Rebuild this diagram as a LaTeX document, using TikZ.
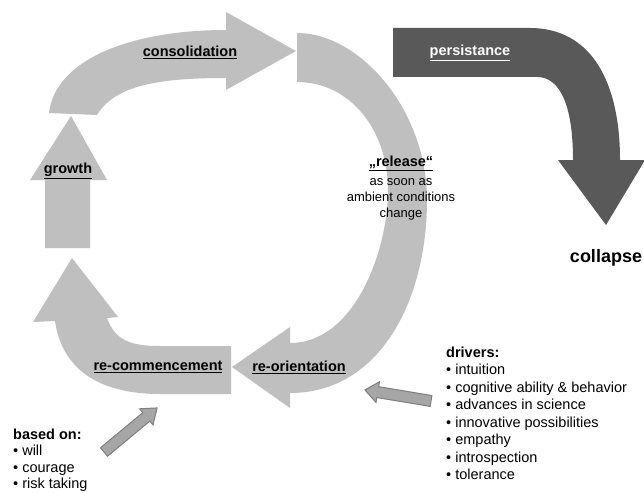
\documentclass[tikz,border=0pt]{standalone}
\usepackage{fontspec}
\setmainfont{Liberation Sans}
\definecolor{lightband}{HTML}{BFBFBF}
\definecolor{darkband}{HTML}{595959}
\definecolor{sfill}{HTML}{A6A6A6}
\definecolor{sdraw}{HTML}{7F7F7F}
\begin{document}
\begin{tikzpicture}[x=1pt,y=-1pt,
  band/.style={fill=lightband, draw=none},
  darkb/.style={fill=darkband, draw=none},
  smallarrow/.style={fill=sfill, draw=sdraw, line width=1pt, line join=miter},
  lbl/.style={font=\bfseries\fontsize{14.5}{17.5}\selectfont, inner sep=0pt},
  sub/.style={font=\fontsize{13}{16}\selectfont, inner sep=0pt, align=center},
  item/.style={font=\fontsize{14.5}{17.5}\selectfont, inner sep=0pt, anchor=base west},
  head/.style={font=\bfseries\fontsize{14.5}{17.5}\selectfont, inner sep=0pt, anchor=base west}]
\clip (0,0) rectangle (644,492);
\fill[white] (0,0) rectangle (644,492);
% growth
\path[band] (45,248) -- (45,180) -- (30,180) -- (71,116) -- (107,180) -- (90,180) -- (90,248) -- cycle;
% consolidation
\path[band] (49,113) .. controls (55,60) and (130,30) .. (226,30) -- (226,12) -- (296,51) -- (226,90) -- (226,78) .. controls (160,78) and (115,85) .. (97,115) -- cycle;
% release + re-orientation
\path[band] (297,33) .. controls (360,33) and (427,110) .. (427,200) .. controls (427,300) and (380,393) .. (290,393) -- (290,408) -- (232,367) -- (290,327) -- (290,343) .. controls (355,343) and (388,250) .. (388,190) .. controls (388,130) and (350,82) .. (297,82) -- cycle;
% re-commencement
\path[band] (231,346) -- (231,394) -- (160,394) .. controls (100,394) and (62,370) .. (55,321) -- (33,322) -- (72,258) -- (118,317) -- (107,318) .. controls (115,340) and (130,346) .. (160,346) -- cycle;
% persistance
\path[darkb] (393,28) -- (530,28) .. controls (590,28) and (620,80) .. (620,160) -- (645,160) -- (606,225) -- (558,160) -- (573,160) .. controls (573,110) and (562,77) .. (537,77) -- (393,77) -- cycle;
% small arrows
\begin{scope}[shift={(431,401)}, rotate=170.5]
\draw[smallarrow] (0,5.5) -- (54,5.5) -- (54,10.5) -- (67,0) -- (54,-10.5) -- (54,-5.5) -- (0,-5.5) -- cycle;
\end{scope}
\begin{scope}[shift={(104,452)}, rotate=39.7]
\draw[smallarrow] (0,5.5) -- (55,5.5) -- (55,10.5) -- (69,0) -- (55,-10.5) -- (55,-5.5) -- (0,-5.5) -- cycle;
\end{scope}
% labels
\node[lbl] (consolidation) at (190,52) {\underline{consolidation}};
\node[lbl] (growth) at (68,171) {\underline{growth}};
\node[lbl, text=white] (persistance) at (470,53) {\underline{persistance}};
\node[lbl] (release) at (401,163) {\underline{„release“}};
\node[sub] (cond) at (401,199) {as soon as\\ambient conditions\\change};
\node[lbl] (recomm) at (158,367) {\underline{re-commencement}};
\node[lbl] (reorient) at (299,367) {\underline{re-orientation}};
\node[font=\bfseries\fontsize{18}{21}\selectfont, inner sep=0pt] (collapse) at (606,258) {collapse};
% drivers
\node[head] (drv) at (446,357) {drivers:};
\node[item] (d1) at (446,374.5) {• intuition};
\node[item] (d2) at (446,392) {• cognitive ability \& behavior};
\node[item] (d3) at (446,409.5) {• advances in science};
\node[item] (d4) at (446,427) {• innovative possibilities};
\node[item] (d5) at (446,444.5) {• empathy};
\node[item] (d6) at (446,462) {• introspection};
\node[item] (d7) at (446,479.5) {• tolerance};
% based on
\node[head] (bas) at (13,439) {based on:};
\node[item] (b1) at (13,455.5) {• will};
\node[item] (b2) at (13,472) {• courage};
\node[item] (b3) at (13,488) {• risk taking};
\end{tikzpicture}
\end{document}
